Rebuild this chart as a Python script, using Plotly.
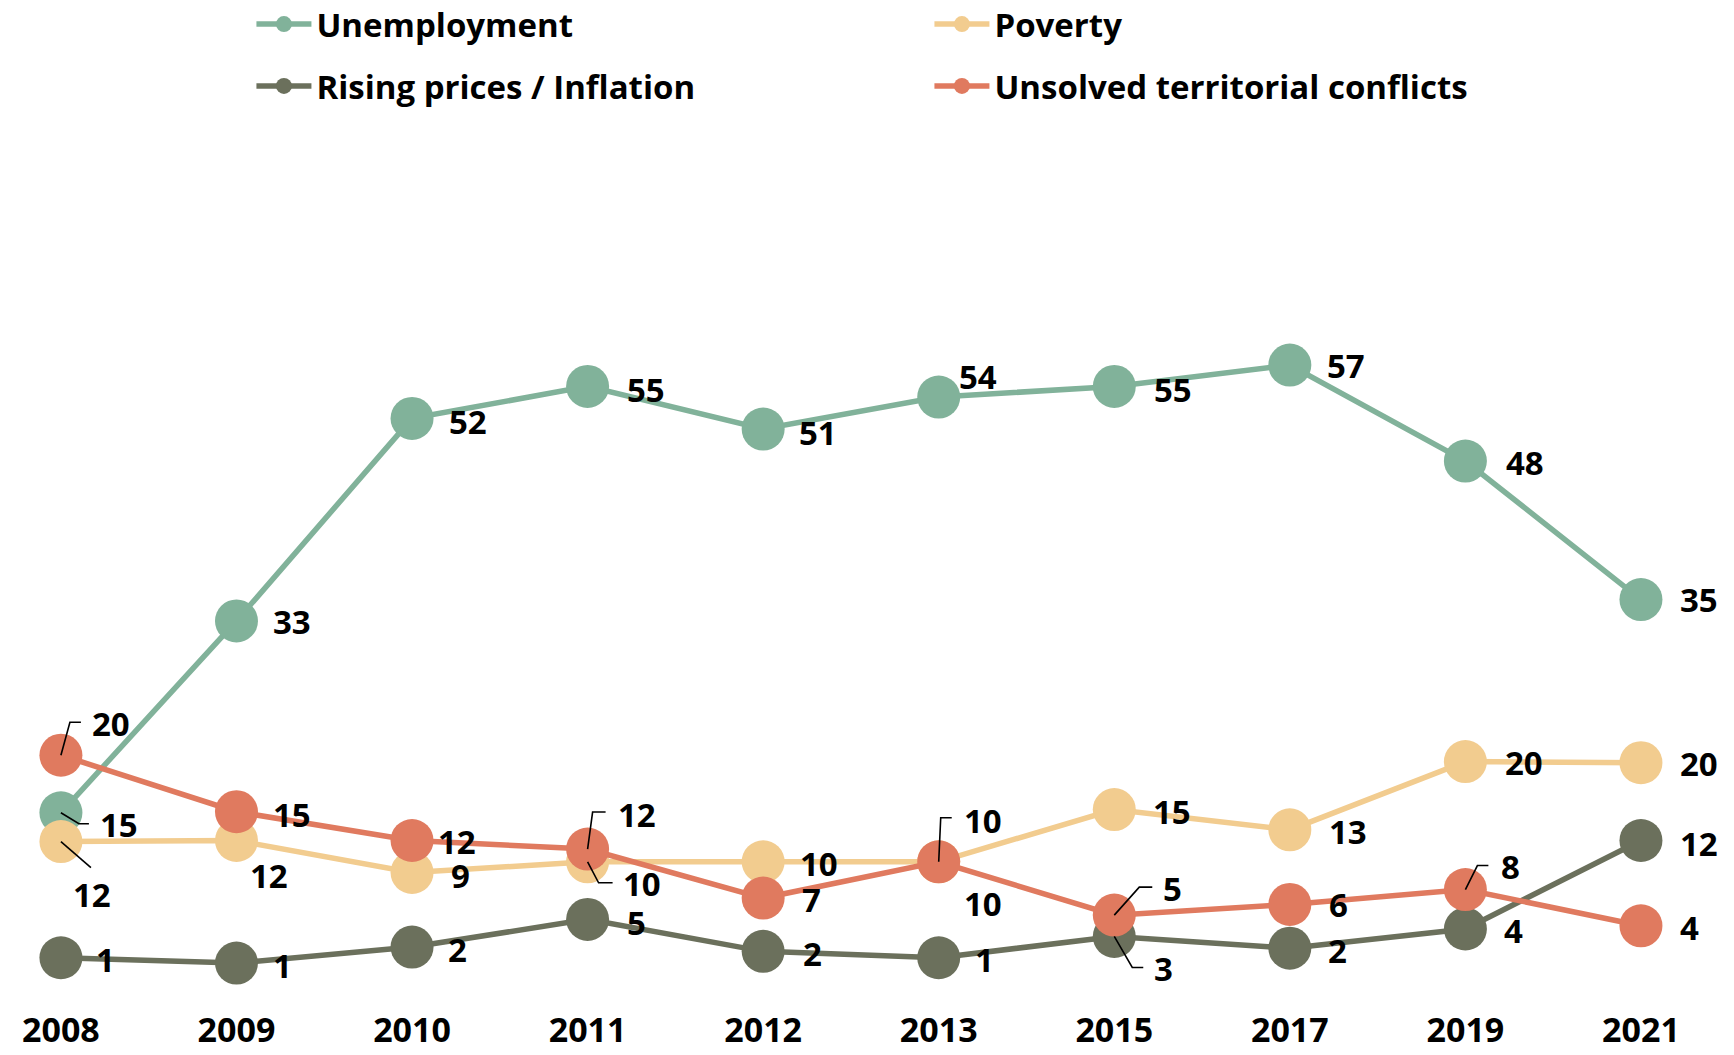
import plotly.graph_objects as go

years = ["2008", "2009", "2010", "2011", "2012", "2013", "2015", "2017", "2019", "2021"]

unemployment = [15, 33, 52, 55, 51, 54, 55, 57, 48, 35]
unemployment_labels = ["15", "33", "52", "55", "51", "54", "55", "57", "48", "35"]

poverty = [12.3, 12.4, 9.4, 10.4, 10.4, 10.4, 15.3, 13.4, 19.8, 19.7]
poverty_labels = ["12", "12", "9", "10", "10", "10", "15", "13", "20", "20"]

inflation = [1.4, 0.9, 2.4, 5.0, 2.0, 1.4, 3.4, 2.3, 4.1, 12.4]
inflation_labels = ["1", "1", "2", "5", "2", "1", "3", "2", "4", "12"]

conflicts = [20.4, 15.1, 12.4, 11.6, 7.0, 10.4, 5.4, 6.4, 7.8, 4.4]
conflicts_labels = ["20", "15", "12", "12", "7", "10", "5", "6", "8", "4"]

# label placement in pixels relative to the point: (dx, dy-down, anchor, leader path points)
unemp_pos = [(37, 12, "left", [(18, 11), (28, 11)]), (56, 1, "center", None), (56, 3, "center", None),
             (58, 3, "center", None), (55, 3, "center", None), (39, -21, "center", None),
             (59, 3, "center", None), (56, 0, "center", None), (60, 1, "center", None),
             (58, 0, "center", None)]
pov_pos = [(31, 53, "center", [(30, 26)]), (33, 35, "center", None), (48, 3, "center", None),
           (33, 22, "left", [(11, 21), (25, 21)]), (56, 2, "center", None), (44, 42, "center", None),
           (58, 2, "center", None), (58, 2, "center", None), (59, 1, "center", None),
           (58, 1, "center", None)]
infl_pos = [(45, 2, "center", None), (46, 2, "center", None), (45, 2, "center", None),
            (49, 3, "center", None), (49, 2, "center", None), (46, 2, "center", None),
            (38, 32, "left", [(18, 31), (29, 31)]), (48, 2, "center", None),
            (48, 2, "center", None), (58, 3, "center", None)]
conf_pos = [(29, -32, "left", [(9, -33), (20, -33)]), (56, 3, "center", None), (45, 1, "center", None),
            (28, -35, "left", [(5, -37), (18, -37)]), (48, 1, "center", None),
            (23, -41, "left", [(2, -44), (13, -44)]), (47, -27, "left", [(25, -28), (38, -28)]),
            (49, 0, "center", None), (34, -23, "left", [(12, -24), (23, -24)]), (49, 2, "center", None)]

C_UNEMP = "#81b29a"
C_POV = "#f2cc8f"
C_INFL = "#6b705c"
C_CONF = "#e07a5f"

FONT = "Open Sans"
FS = 33

fig = go.Figure()

def add_series(name, vals, color, legend):
    fig.add_trace(go.Scatter(
        x=list(range(len(years))), y=vals, name=name, mode="lines+markers",
        line=dict(color=color, width=5.5),
        marker=dict(color=color, size=43),
        legend=legend, hoverinfo="skip",
    ))

add_series("Unemployment", unemployment, C_UNEMP, "legend")
add_series("Rising prices / Inflation", inflation, C_INFL, "legend2")
add_series("Poverty", poverty, C_POV, "legend")
add_series("Unsolved territorial conflicts", conflicts, C_CONF, "legend2")

annotations = []
shapes = []
for vals, labels, pos in [(unemployment, unemployment_labels, unemp_pos),
                          (poverty, poverty_labels, pov_pos),
                          (inflation, inflation_labels, infl_pos),
                          (conflicts, conflicts_labels, conf_pos)]:
    for i, (v, lab, (dx, dy, anchor, leader)) in enumerate(zip(vals, labels, pos)):
        annotations.append(dict(
            x=i, y=v, xref="x", yref="y", text=lab, showarrow=False,
            xshift=dx, yshift=-dy, xanchor=anchor,
            font=dict(family=FONT, size=FS, color="black", weight="bold"),
        ))
        if leader:
            path = "M0,0 " + " ".join(f"L{px},{-py}" for px, py in leader)
            shapes.append(dict(
                type="path", xref="x", yref="y", xsizemode="pixel", ysizemode="pixel",
                xanchor=i, yanchor=v, path=path, layer="above",
                line=dict(color="black", width=1.6),
            ))

legend_common = dict(
    orientation="h", xanchor="left", yanchor="middle",
    font=dict(family=FONT, size=FS, color="black", weight="bold"),
    itemwidth=55, entrywidthmode="pixels", entrywidth=608,
    bgcolor="rgba(0,0,0,0)", itemclick=False, itemdoubleclick=False,
)

fig.update_layout(
    width=1734, height=1055,
    margin=dict(l=0, r=0, t=0, b=48, autoexpand=False),
    paper_bgcolor="white", plot_bgcolor="white",
    showlegend=True,
    legend=dict(x=0.145, y=0.976, **legend_common),
    legend2=dict(x=0.145, y=0.9146, **legend_common),
    xaxis=dict(range=[-0.347, 9.53], showgrid=False, zeroline=False,
               showline=False, ticks="", automargin=False,
               tickmode="array", tickvals=list(range(len(years))), ticktext=years,
               tickfont=dict(family=FONT, size=34, color="black", weight="bold")),
    yaxis=dict(range=[-3.22, 91.25], showgrid=False, zeroline=False, showline=False,
               showticklabels=False, automargin=False),
    annotations=annotations,
    shapes=shapes,
)

fig.write_html("out.html", config={"displayModeBar": False},
               post_script="document.body.style.margin='0';document.body.style.overflow='hidden';")
